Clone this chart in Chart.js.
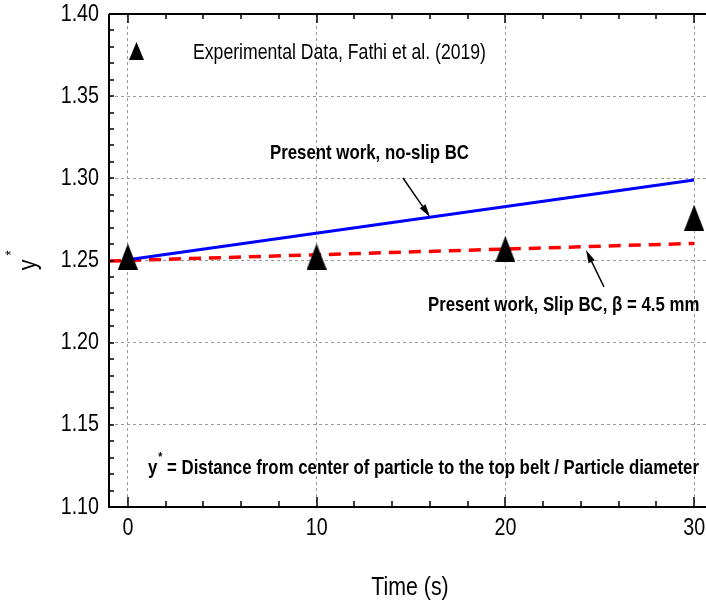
<!DOCTYPE html>
<html lang="en">
<head>
    <meta charset="UTF-8">
    <title>Particle position y* vs time</title>
    <script src="https://cdn.jsdelivr.net/npm/chart.js"></script>
    <style>
        * {
            padding: 0;
            margin: 0;
        }
        body {
            background-color: #ffffff;
            overflow: hidden;
        }
        .chart-container {
            position: relative;
            width: 720px;
            height: 606px;
        }
    </style>
</head>
<body>
    <div class="chart-container">
        <canvas id="myChart" width="720" height="606"></canvas>
    </div>
    <script>
        const FONT = "'Liberation Sans', Arial, sans-serif";
        const NARROW = 0.82; // horizontal squeeze to get a narrow face

        // axis ticks
        const xTicks = [0, 10, 20, 30];
        const yTicks = [1.10, 1.15, 1.20, 1.25, 1.30, 1.35, 1.40];

        // experimental data (Fathi et al. 2019)
        const expTime = [0, 10, 20, 30];
        const expY = [1.2524, 1.2524, 1.2570, 1.2761];

        // present work, no-slip boundary condition
        const noSlipTime = [0, 30];
        const noSlipY = [1.2505, 1.2990];

        // present work, slip boundary condition
        const slipTime = [-1, 30];
        const slipY = [1.2497, 1.2604];

        function toPoints(xs, ys) {
            return xs.map((x, i) => ({ x: x, y: ys[i] }));
        }

        function triangleMarker(w, h) {
            const c = document.createElement('canvas');
            c.width = w;
            c.height = h;
            const g = c.getContext('2d');
            g.fillStyle = '#000';
            g.beginPath();
            g.moveTo(w / 2, 0);
            g.lineTo(w, h);
            g.lineTo(0, h);
            g.closePath();
            g.fill();
            return c;
        }

        // narrow text: returns drawn width in pixels
        function text(ctx, str, x, y, font, align) {
            ctx.save();
            ctx.font = font;
            ctx.textAlign = align || 'left';
            ctx.textBaseline = 'middle';
            ctx.fillStyle = '#000';
            ctx.translate(x, y);
            ctx.scale(NARROW, 1);
            ctx.fillText(str, 0, 0);
            const w = ctx.measureText(str).width * NARROW;
            ctx.restore();
            return w;
        }

        function arrow(ctx, x1, y1, x2, y2) {
            const ang = Math.atan2(y2 - y1, x2 - x1);
            const len = 13, half = 3.5;
            const bx = x2 - Math.cos(ang) * len, by = y2 - Math.sin(ang) * len;
            ctx.strokeStyle = '#000';
            ctx.fillStyle = '#000';
            ctx.lineWidth = 1.5;
            ctx.beginPath();
            ctx.moveTo(x1, y1);
            ctx.lineTo(bx, by);
            ctx.stroke();
            ctx.beginPath();
            ctx.moveTo(x2, y2);
            ctx.lineTo(bx - Math.sin(ang) * half, by + Math.cos(ang) * half);
            ctx.lineTo(bx + Math.sin(ang) * half, by - Math.cos(ang) * half);
            ctx.closePath();
            ctx.fill();
        }

        // frame, inward tick marks, tick labels, texts and arrows
        const decorations = {
            id: 'decorations',
            afterDraw(chart) {
                const ctx = chart.ctx;
                const area = chart.chartArea;
                const xs = chart.scales.x, ys = chart.scales.y;
                ctx.save();

                ctx.strokeStyle = '#000';
                ctx.lineWidth = 2;
                ctx.beginPath();
                ctx.moveTo(area.left, area.top);
                ctx.lineTo(area.left, area.bottom);
                ctx.lineTo(area.right, area.bottom);
                ctx.moveTo(area.left, area.top);
                ctx.lineTo(area.right, area.top);
                ctx.stroke();

                ctx.lineWidth = 1.5;
                ctx.beginPath();
                for (let v = 0; v <= 30; v += 2) {
                    const px = Math.round(xs.getPixelForValue(v));
                    const major = v % 10 === 0;
                    ctx.moveTo(px, area.bottom);
                    ctx.lineTo(px, area.bottom - (major ? 10 : 6));
                    ctx.moveTo(px, area.top);
                    ctx.lineTo(px, area.top + (major ? 9 : 5));
                }
                for (let k = 110; k <= 140; k++) {
                    const py = Math.round(ys.getPixelForValue(k / 100));
                    ctx.moveTo(area.left, py);
                    ctx.lineTo(area.left + 5, py);
                }
                ctx.stroke();

                // tick labels
                xTicks.forEach(v => text(ctx, String(v), xs.getPixelForValue(v), area.bottom + 21, '24px ' + FONT, 'center'));
                yTicks.forEach(v => text(ctx, v.toFixed(2), area.left - 10, ys.getPixelForValue(v), '24px ' + FONT, 'right'));

                // legend entry
                ctx.drawImage(triangleMarker(15, 18), 129, 42);
                text(ctx, 'Experimental Data, Fathi et al. (2019)', 193, 53, '21.5px ' + FONT);

                // curve labels
                const bold = 'bold 20.5px ' + FONT;
                text(ctx, 'Present work, no-slip BC', 270, 153, bold);
                text(ctx, 'Present work, Slip BC, \u03b2 = 4.5 mm', 428, 305, bold);
                arrow(ctx, 403, 178, 430, 217);
                arrow(ctx, 604, 287, 586, 250);

                // definition of y*
                const yw = text(ctx, 'y', 148, 468, bold);
                text(ctx, '*', 148 + yw + 1, 457, 'bold 13px ' + FONT);
                text(ctx, '= Distance from center of particle to the top belt / Particle diameter', 167, 468, bold);

                // axis titles
                text(ctx, 'Time (s)', 410, 588, '26px ' + FONT, 'center');
                ctx.save();
                ctx.translate(29, 265);
                ctx.rotate(-Math.PI / 2);
                text(ctx, 'y', 0, 0, '26px ' + FONT, 'center');
                text(ctx, '*', 12, -16, '16px ' + FONT, 'center');
                ctx.restore();

                ctx.restore();
            }
        };

        const ctx = document.getElementById('myChart').getContext('2d');
        const chart = new Chart(ctx, {
            type: 'scatter',
            data: {
                datasets: [
                    {
                        label: 'Experimental Data, Fathi et al. (2019)',
                        data: toPoints(expTime, expY),
                        pointStyle: triangleMarker(20, 26),
                        showLine: false
                    },
                    {
                        label: 'Present work, no-slip BC',
                        data: toPoints(noSlipTime, noSlipY),
                        showLine: true,
                        borderColor: '#0000ff',
                        borderWidth: 3,
                        pointRadius: 0
                    },
                    {
                        label: 'Present work, Slip BC',
                        data: toPoints(slipTime, slipY),
                        showLine: true,
                        borderColor: '#ff0000',
                        borderWidth: 3.5,
                        borderDash: [12, 8],
                        pointRadius: 0
                    }
                ]
            },
            options: {
                responsive: false,
                animation: false,
                layout: {
                    padding: { top: 14, right: 7, left: 0, bottom: 0 }
                },
                plugins: {
                    legend: { display: false },
                    tooltip: { enabled: false }
                },
                scales: {
                    x: {
                        type: 'linear',
                        min: -1,
                        max: 31,
                        afterBuildTicks: s => { s.ticks = xTicks.map(v => ({ value: v })); },
                        afterFit: s => { s.height = 99; },
                        grid: { color: '#9a9a9a', lineWidth: 1, drawTicks: false },
                        border: { display: false, dash: [3, 3] },
                        ticks: { display: false }
                    },
                    y: {
                        min: 1.10,
                        max: 1.40,
                        afterBuildTicks: s => { s.ticks = yTicks.map(v => ({ value: v })); },
                        afterFit: s => { s.width = 109; },
                        grid: { color: '#9a9a9a', lineWidth: 1, drawTicks: false },
                        border: { display: false, dash: [3, 3] },
                        ticks: { display: false }
                    }
                }
            },
            plugins: [decorations]
        });
    </script>
</body>
</html>
